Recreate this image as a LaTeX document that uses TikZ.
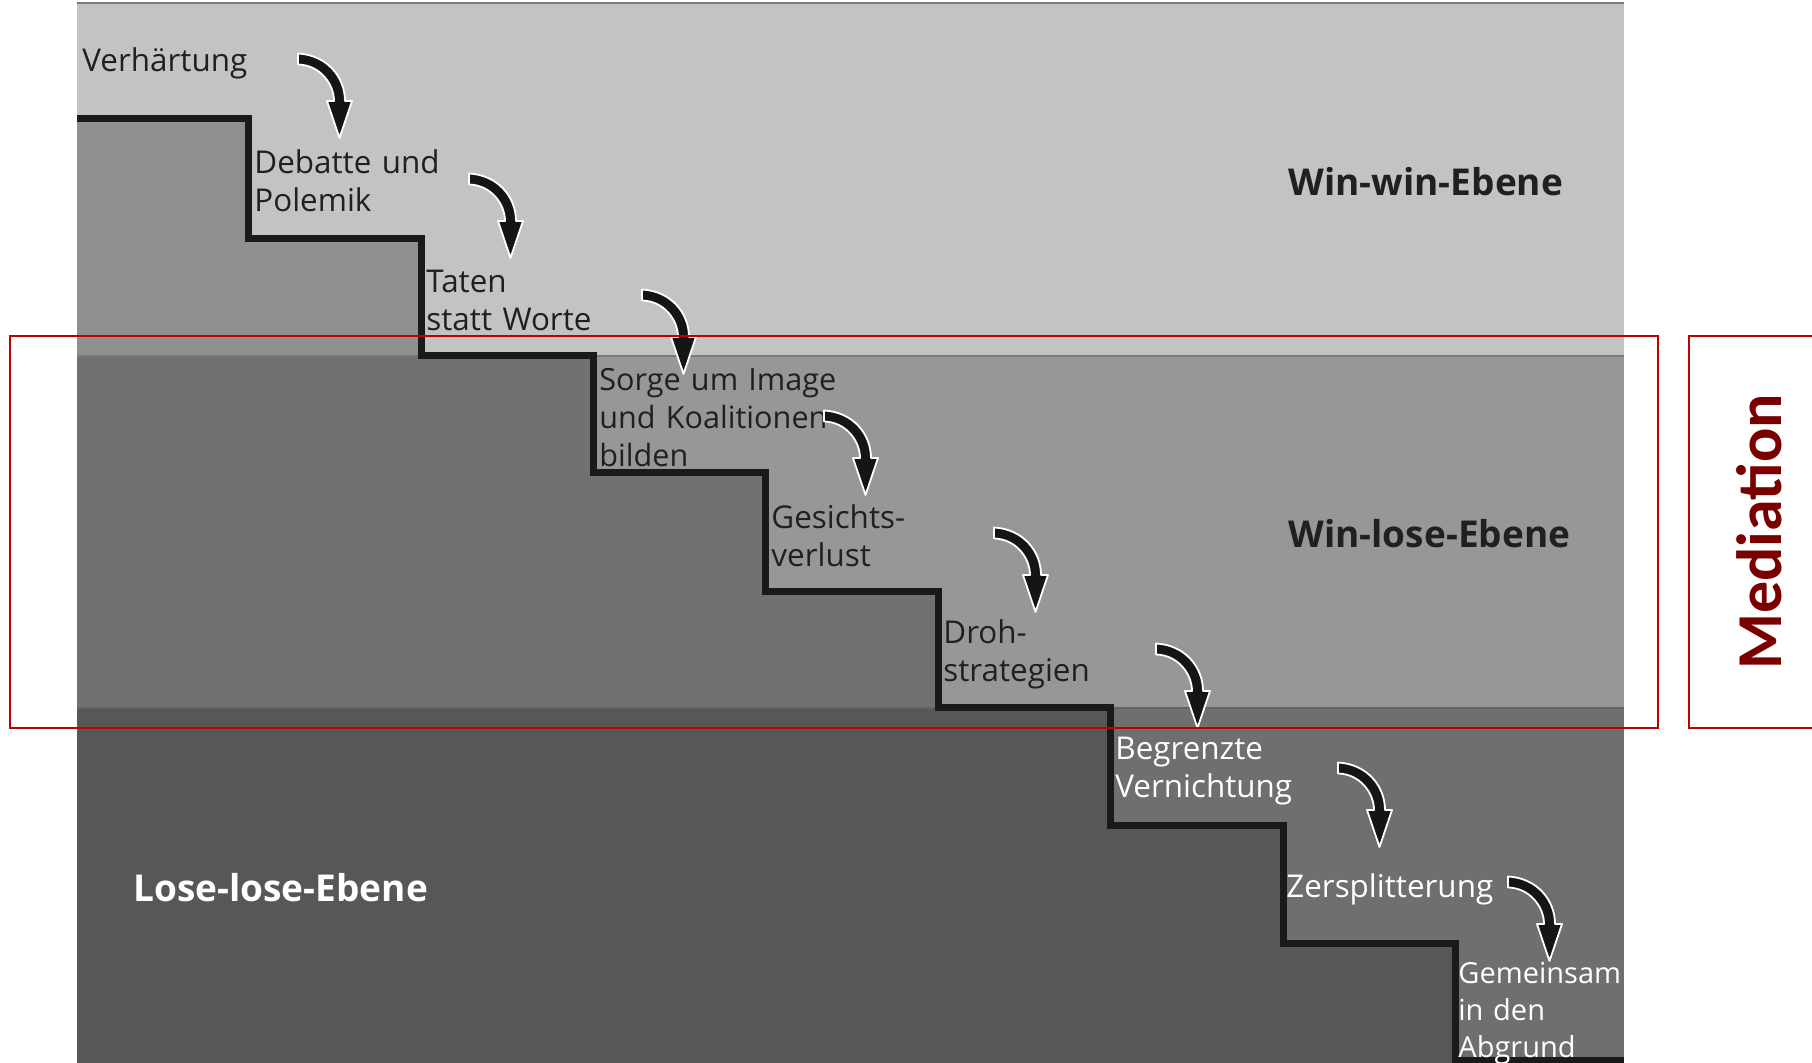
\documentclass[tikz,border=0pt]{standalone}
\usepackage{fontspec}
\setmainfont{Open Sans}
\newfontfamily\medfont{Carlito}
\definecolor{wwtop}{HTML}{C3C3C3}
\definecolor{wwbot}{HTML}{8F8F8F}
\definecolor{wltop}{HTML}{979797}
\definecolor{wlbot}{HTML}{717171}
\definecolor{lltop}{HTML}{6F6F6F}
\definecolor{llbot}{HTML}{575757}
\definecolor{bandline}{HTML}{7A7A7A}
\definecolor{stairline}{HTML}{1A1A1A}
\definecolor{labeldark}{HTML}{202020}
\definecolor{arrowblack}{HTML}{151515}
\definecolor{boxred}{HTML}{C00000}
\definecolor{medred}{HTML}{7A0000}
\tikzset{
  lbl/.style={anchor=base west, inner sep=0pt, text width=320pt, align=left,
    font=\fontsize{15.7}{19.25}\selectfont, text=labeldark},
  lblw/.style={lbl, text=white},
  lvl/.style={anchor=base west, inner sep=0pt, font=\fontsize{18.5}{22}\selectfont\bfseries, text=labeldark},
  redbox/.style={draw=boxred, line width=1.2pt},
  stairarrow/.pic={
    \filldraw[fill=arrowblack, draw=white, line width=0.9pt, line join=round]
      (0,-5.5) .. controls (29,-4) and (47,18) .. (47,42)
      -- (54,42) -- (41.5,79) -- (29,42) -- (36,42)
      .. controls (36,25) and (22,6) .. (0,5.5) -- cycle;
  }
}
\begin{document}
\begin{tikzpicture}[x=0.5pt,y=-0.5pt]
\useasboundingbox (0,0) rectangle (1812,1063);
% bands
\fill[wwtop] (77,3) rectangle (1624,356);
\fill[wltop] (77,356) rectangle (1624,708);
\fill[lltop] (77,708) rectangle (1624,1063);
% below the staircase
\begin{scope}
\clip (77,119) -- (248,119) -- (248,239) -- (421,239) -- (421,356) -- (593,356)
  -- (593,473) -- (765,473) -- (765,592) -- (938,592) -- (938,708) -- (1110,708)
  -- (1110,826) -- (1283,826) -- (1283,944) -- (1455,944) -- (1455,1061)
  -- (1624,1061) -- (1624,1063) -- (77,1063) -- cycle;
\fill[wwbot] (77,3) rectangle (1624,356);
\fill[wlbot] (77,356) rectangle (1624,708);
\fill[llbot] (77,708) rectangle (1624,1063);
\end{scope}
% band borders
\draw[bandline, line width=1pt] (77,3) -- (1624,3);
\draw[bandline, line width=1pt] (77,356) -- (1624,356);
\draw[bandline!80!black, line width=1pt] (77,708) -- (1624,708);
% staircase
\draw[stairline, line width=3.5pt, line join=miter]
  (77,119) -- (248,119) -- (248,239) -- (421,239) -- (421,356) -- (593,356)
  -- (593,473) -- (765,473) -- (765,592) -- (938,592) -- (938,708) -- (1110,708)
  -- (1110,826) -- (1283,826) -- (1283,944) -- (1455,944) -- (1455,1061)
  -- (1624,1061);
% step labels
\node[lbl] (s1) at (82,71.5) {Verhärtung};
\node[lbl] (s2) at (254,173.5) {Debatte und\\Polemik};
\node[lbl] (s3) at (426,292.5) {Taten\\statt Worte};
\node[lbl, font=\fontsize{15.3}{19.1}\selectfont] (s4) at (599,390.5) {Sorge um Image\\und Koalitionen\\bilden};
\node[lbl] (s5) at (771,528.5) {Gesichts-\\verlust};
\node[lbl] (s6) at (943,643.5) {Droh-\\strategien};
\node[lblw] (s7) at (1115,759.5) {Begrenzte\\Vernichtung};
\node[lblw] (s8) at (1286,897.5) {Zersplitterung};
\node[lblw, font=\fontsize{14.5}{18.5}\selectfont] (s9) at (1458,983.5) {Gemeinsam\\in den\\Abgrund};
% level labels
\node[lvl] (ww) at (1288,196) {Win-win-Ebene};
\node[lvl] (wl) at (1288,548) {Win-lose-Ebene};
\node[lvl, text=white] (ll) at (133,902) {Lose-lose-Ebene};
% arrows
\pic at (298,59) {stairarrow};
\pic at (469,179) {stairarrow};
\pic at (642,295) {stairarrow};
\pic at (824,416) {stairarrow};
\pic at (994,533) {stairarrow};
\pic at (1156,649) {stairarrow};
\pic at (1338,768) {stairarrow};
\pic at (1508,882) {stairarrow};
% mediation boxes
\draw[redbox] (10,336) rectangle (1658,728);
\draw[redbox] (1812,336) -- (1689,336) -- (1689,728) -- (1812,728);
\node[rotate=90, inner sep=0pt, text=medred, font=\medfont\bfseries\fontsize{32}{36}\selectfont] (med) at (1759,532) {Mediation};
\end{tikzpicture}
\end{document}
